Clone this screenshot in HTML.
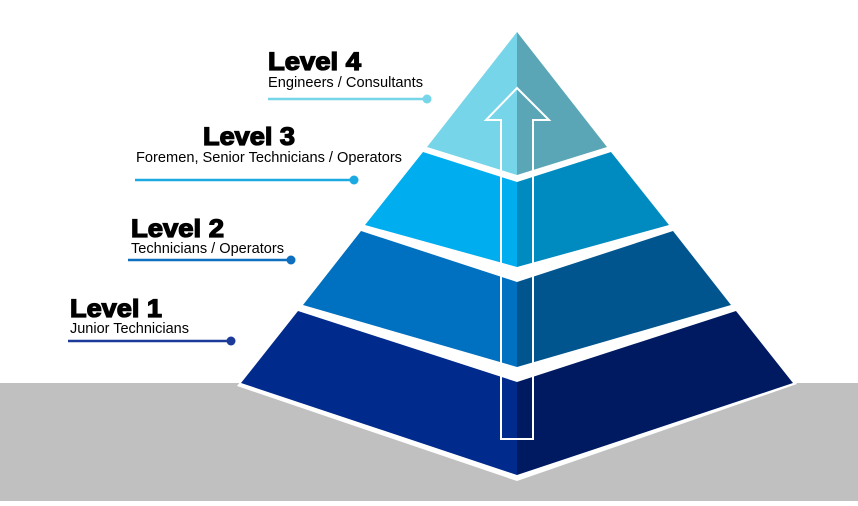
<!DOCTYPE html>
<html><head><meta charset="utf-8"><style>
html,body{margin:0;padding:0;background:#fff;}
body{width:858px;height:501px;overflow:hidden;}
</style></head><body>
<svg width="858" height="501" viewBox="0 0 858 501" xmlns="http://www.w3.org/2000/svg">
<rect x="0" y="383" width="858" height="118" fill="#c0c0c0"/>
<polygon points="517,30 797,384 517,481 237,386" fill="#fff"/>
<polygon points="517,32 427,147 517,175" fill="#76d5e8"/>
<polygon points="517,32 607,147 517,175" fill="#5aa6b6"/>
<polygon points="423,152 517,182 517,267 365,225" fill="#00aeef"/>
<polygon points="611,152 517,182 517,267 669,225" fill="#008bc0"/>
<polygon points="361,231 517,282 517,367 303,305" fill="#0070c0"/>
<polygon points="673,231 517,282 517,367 731,305" fill="#00558f"/>
<polygon points="298,311 517,382 517,475 241,383" fill="#002a8c"/>
<polygon points="736,311 517,382 517,475 793,383" fill="#001a62"/>
<polygon points="517,88 549,120 533,120 533,439 501,439 501,120 486,120" fill="none" stroke="#fff" stroke-width="2"/>
<g font-family="'Liberation Sans',sans-serif" fill="#000">
<text x="268" y="70" font-size="25" font-weight="bold" stroke="#000" stroke-width="1.3" textLength="93" lengthAdjust="spacingAndGlyphs">Level 4</text>
<text x="268" y="87" font-size="14.5" textLength="155" lengthAdjust="spacingAndGlyphs">Engineers / Consultants</text>
<text x="203" y="145" font-size="25" font-weight="bold" stroke="#000" stroke-width="1.3" textLength="92" lengthAdjust="spacingAndGlyphs">Level 3</text>
<text x="136" y="162" font-size="14.5" textLength="266" lengthAdjust="spacingAndGlyphs">Foremen, Senior Technicians / Operators</text>
<text x="131" y="237" font-size="25" font-weight="bold" stroke="#000" stroke-width="1.3" textLength="93" lengthAdjust="spacingAndGlyphs">Level 2</text>
<text x="131" y="253" font-size="14.5" textLength="153" lengthAdjust="spacingAndGlyphs">Technicians / Operators</text>
<text x="70" y="317" font-size="25" font-weight="bold" stroke="#000" stroke-width="1.3" textLength="92" lengthAdjust="spacingAndGlyphs">Level 1</text>
<text x="70" y="333" font-size="14.5" textLength="119" lengthAdjust="spacingAndGlyphs">Junior Technicians</text>
</g>
<line x1="268" y1="99" x2="427" y2="99" stroke="#76d5e8" stroke-width="2.5"/>
<circle cx="427" cy="99" r="4.5" fill="#76d5e8"/>
<line x1="135" y1="180" x2="354" y2="180" stroke="#1ba9e1" stroke-width="2.5"/>
<circle cx="354" cy="180" r="4.5" fill="#1ba9e1"/>
<line x1="128" y1="260" x2="291" y2="260" stroke="#0e6fbf" stroke-width="2.5"/>
<circle cx="291" cy="260" r="4.5" fill="#0e6fbf"/>
<line x1="68" y1="341" x2="231" y2="341" stroke="#1c3a99" stroke-width="2.5"/>
<circle cx="231" cy="341" r="4.5" fill="#1c3a99"/>
</svg>
</body></html>
